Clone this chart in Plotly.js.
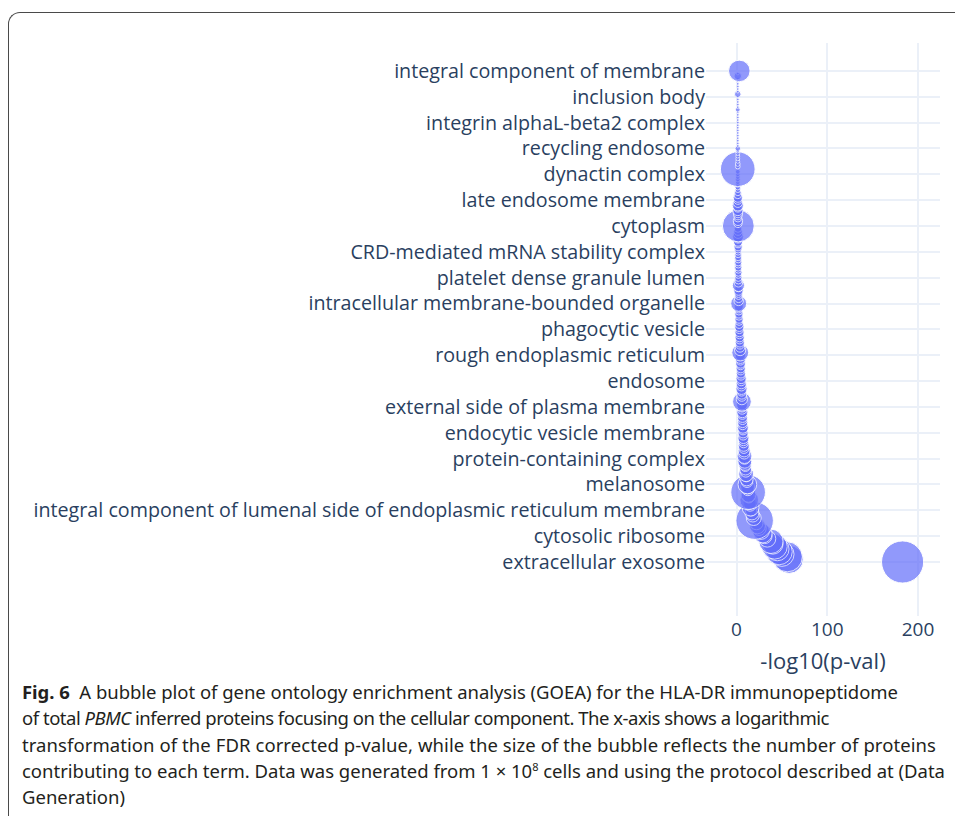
<!DOCTYPE html>
<html>
<head>
<meta charset="utf-8">
<script src="https://cdn.plot.ly/plotly-3.0.1.min.js"></script>
<style>
  html, body { margin: 0; padding: 0; width: 955px; height: 816px; overflow: hidden; background: #fff; }
  #frame { position: absolute; left: 8px; top: 12px; width: 1000px; height: 900px;
           border-left: 1.5px solid #4a4a4a; border-top: 1.5px solid #4a4a4a; border-top-left-radius: 12px; }
  #plot { position: absolute; left: 0; top: 0; width: 955px; height: 816px; }
  #caption { position: absolute; left: 22px; top: 679px; width: 930px;
             font-family: "Noto Sans", "Open Sans", sans-serif; font-size: 18.5px;
             line-height: 26.3px; color: #231f20; }
  #caption .ln { white-space: nowrap; height: 26.3px; }
  #caption sup { font-size: 11px; line-height: 0; vertical-align: 7px; }
</style>
</head>
<body>
<div id="frame"></div>
<div id="plot"></div>
<div id="caption">
  <div class="ln"><span data-w="876"><b>Fig. 6</b>&nbsp; A bubble plot of gene ontology enrichment analysis (GOEA) for the HLA-DR immunopeptidome</span></div>
  <div class="ln"><span data-w="807">of total <i>PBMC</i> inferred proteins focusing on the cellular component. The x-axis shows a logarithmic</span></div>
  <div class="ln"><span data-w="914">transformation of the FDR corrected p-value, while the size of the bubble reflects the number of proteins</span></div>
  <div class="ln"><span data-w="923">contributing to each term. Data was generated from 1 × 10<sup>8</sup> cells and using the protocol described at (Data</span></div>
  <div class="ln"><span data-w="103">Generation)</span></div>
</div>
<script>
// GO cellular-component terms, ranked from most significant (rank 0, bottom) upward.
// Only every tenth term label is legible in the figure.
const labelRanks = [0, 10, 20, 30, 40, 50, 60, 70, 80, 90, 100, 110, 120, 130, 140, 150, 160, 170, 180, 190];
const termLabels = [
  "extracellular exosome",
  "cytosolic ribosome",
  "integral component of lumenal side of endoplasmic reticulum membrane",
  "melanosome",
  "protein-containing complex",
  "endocytic vesicle membrane",
  "external side of plasma membrane",
  "endosome",
  "rough endoplasmic reticulum",
  "phagocytic vesicle",
  "intracellular membrane-bounded organelle",
  "platelet dense granule lumen",
  "CRD-mediated mRNA stability complex",
  "cytoplasm",
  "late endosome membrane",
  "dynactin complex",
  "recycling endosome",
  "integrin alphaL-beta2 complex",
  "inclusion body",
  "integral component of membrane"
];

// -log10(FDR p-value) per ranked term (rank 0 .. 190)
const negLog10P = [
  183, 58, 56, 50, 47, 45, 42, 40, 38, 34,
  31, 29, 27, 25, 23, 22, 20, 19, 18, 17,
  16, 15.5, 15, 14.5, 14, 13.5, 13.2, 12.8, 12.5, 12.2,
  12, 11.6, 11.2, 10.9, 10.6, 10.3, 10, 9.7, 9.4, 9.1,
  8.9, 8.8, 8.6, 8.4, 8.2, 8.0, 7.9, 7.7, 7.6, 7.4,
  7.3, 7.2, 7.0, 6.9, 6.8, 6.7, 6.6, 6.5, 6.4, 6.3,
  6.2, 6.1, 6.0, 5.9, 5.8, 5.7, 5.6, 5.5, 5.4, 5.3,
  5.2, 5.1, 5.0, 4.9, 4.8, 4.7, 4.6, 4.5, 4.4, 4.3,
  4.2, 4.1, 4.0, 3.9, 3.8, 3.7, 3.6, 3.5, 3.4, 3.3,
  3.2, 3.1, 3.0, 2.9, 2.8, 2.7, 2.6, 2.6, 2.5, 2.5,
  2.4, 2.4, 2.3, 2.3, 2.2, 2.2, 2.2, 2.1, 2.1, 2.1,
  2.0, 2.0, 2.0, 2.0, 1.9, 1.9, 1.9, 1.9, 1.8, 1.8,
  1.8, 1.8, 1.8, 1.7, 1.7, 1.7, 1.7, 1.7, 1.7, 1.6,
  2.0, 1.6, 1.6, 1.6, 1.6, 1.6, 1.5, 1.5, 1.5, 1.5,
  1.5, 1.5, 1.5, 1.5, 1.5, 1.4, 1.4, 1.4, 1.4, 1.4,
  1.4, 1.4, 1.4, 1.4, 1.4, 1.4, 1.4, 1.4, 1.4, 1.4,
  1.4, 1.4, 1.4, 1.4, 1.4, 1.4, 1.4, 1.4, 1.4, 1.4,
  1.4, 1.4, 1.4, 1.4, 1.4, 1.4, 1.4, 1.4, 1.4, 1.4,
  1.4, 1.4, 1.4, 1.4, 1.4, 1.4, 1.4, 1.4, 1.4, 1.4,
  3.1
];

// number of proteins contributing to each term (bubble size)
const proteinCount = [
  700, 311, 354, 234, 271, 216, 252, 167, 234, 112,
  88, 138, 112, 78, 100, 68, 553, 88, 68, 78,
  50, 112, 58, 68, 138, 50, 88, 473, 58, 78,
  138, 50, 68, 42, 88, 50, 58, 42, 68, 78,
  50, 88, 50, 58, 42, 50, 35, 42, 50, 35,
  42, 35, 50, 35, 42, 35, 42, 35, 50, 35,
  42, 50, 138, 50, 35, 42, 35, 50, 35, 42,
  35, 42, 28, 35, 28, 35, 28, 42, 35, 50,
  42, 112, 50, 35, 28, 35, 28, 35, 28, 35,
  28, 35, 28, 22, 28, 22, 28, 22, 28, 35,
  100, 35, 28, 22, 28, 35, 22, 58, 28, 22,
  22, 17, 22, 17, 22, 17, 22, 17, 22, 17,
  17, 22, 28, 22, 35, 28, 50, 35, 28, 22,
  400, 28, 35, 22, 28, 35, 42, 28, 50, 35,
  28, 35, 22, 17, 12, 12, 9, 9, 9, 9,
  9, 9, 473, 9, 9, 6, 6, 6, 6, 6,
  12, 3, 3, 3, 3, 3, 3, 3, 3, 3,
  3, 3, 3, 3, 3, 9, 3, 3, 3, 3,
  3, 17, 3, 3, 3, 3, 3, 3, 22, 3,
  183
];

// fit each caption line to the width it has in the printed figure
document.querySelectorAll("#caption span[data-w]").forEach(function (s) {
  const target = parseFloat(s.getAttribute("data-w"));
  const natural = s.getBoundingClientRect().width;
  const n = s.textContent.length;
  s.style.letterSpacing = ((target - natural) / n).toFixed(3) + "px";
});

const rank = proteinCount.map((_, i) => i);
const maxCount = Math.max(...proteinCount);
const maxDiameterPx = 45;

const trace = {
  type: "scatter",
  mode: "markers",
  x: negLog10P,
  y: rank,
  marker: {
    size: proteinCount,
    sizemode: "area",
    sizeref: 2.28 * maxCount / (maxDiameterPx * maxDiameterPx),
    color: "#636efa",
    opacity: 0.7,
    line: { color: "#ffffff", width: 1 }
  },
  hoverinfo: "x+y"
};

const fontFam = '"Open Sans", verdana, arial, sans-serif';
const layout = {
  width: 955, height: 816,
  margin: { l: 706, r: 15, t: 43, b: 200, pad: 0 },
  paper_bgcolor: "rgba(0,0,0,0)",
  plot_bgcolor: "#ffffff",
  showlegend: false,
  font: { family: fontFam, color: "#2a3f5f", size: 18 },
  xaxis: {
    range: [-33.6, 224.2],
    tickvals: [0, 100, 200],
    showgrid: true, gridcolor: "#ebf0f8", gridwidth: 2,
    zeroline: true, zerolinecolor: "#ebf0f8", zerolinewidth: 2,
    showline: false, ticks: "",
    tickfont: { size: 19, family: fontFam, color: "#2a3f5f" },
    title: { text: "-log10(p-val)", font: { size: 22, family: fontFam, color: "#2a3f5f" }, standoff: 12 }
  },
  yaxis: {
    range: [-20.9, 200.8],
    tickmode: "array",
    tickvals: labelRanks,
    ticktext: termLabels,
    showgrid: true, gridcolor: "#ebf0f8", gridwidth: 2,
    zeroline: false, showline: false, ticks: "",
    tickfont: { size: 19.7, family: fontFam, color: "#2a3f5f" }
  }
};

Plotly.newPlot("plot", [trace], layout, { displayModeBar: false, staticPlot: true });
</script>
</body>
</html>
